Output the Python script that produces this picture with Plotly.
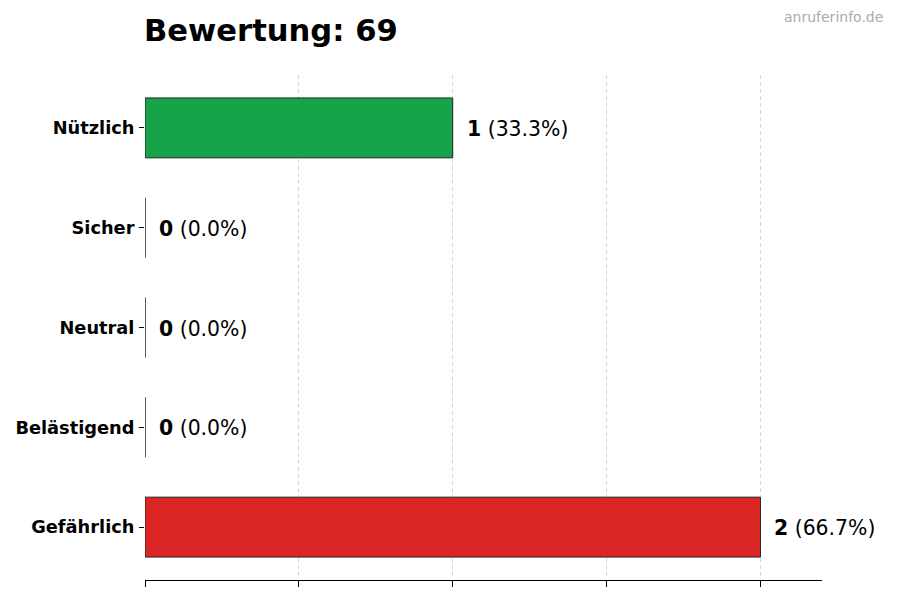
import plotly.graph_objects as go

categories = ["Nützlich", "Sicher", "Neutral", "Belästigend", "Gefährlich"]
values = [1, 0, 0, 0, 2]
colors = ["#16a34a", "#16a34a", "#9ca3af", "#dc2626", "#dc2626"]
title_text = "Bewertung: 69"
watermark = "anruferinfo.de"

total = sum(values)
FONT = "DejaVu Sans"

fig = go.Figure()
fig.add_trace(go.Bar(
    y=categories,
    x=values,
    orientation="h",
    width=0.6,
    marker=dict(color=colors, line=dict(color="#222222", width=1)),
    hoverinfo="skip",
))

for c, v in zip(categories, values):
    pct = 100.0 * v / total if total else 0
    fig.add_annotation(
        x=v, y=c, xref="x", yref="y",
        text=f"<b>{v}</b> ({pct:.1f}%)",
        showarrow=False, xanchor="left", yanchor="middle",
        xshift=12, yshift=-1, font=dict(family=FONT, size=20.4, color="#000000"),
    )

fig.add_annotation(
    x=0, y=1, xref="paper", yref="paper", yshift=45, xshift=-3, xanchor="left", yanchor="middle",
    text=f"<b>{title_text}</b>", showarrow=False,
    font=dict(family=FONT, size=30.6, color="#000000"),
)
fig.add_annotation(
    x=1, y=1, xref="paper", yref="paper", yshift=58, xshift=63, xanchor="right", yanchor="middle",
    text=watermark, showarrow=False,
    font=dict(family=FONT, size=14, color="#aaaaaa"),
)

fig.update_layout(
    width=900, height=600,
    margin=dict(l=145, r=78, t=75, b=20),
    plot_bgcolor="white", paper_bgcolor="white",
    showlegend=False,
    font=dict(family=FONT),
    bargap=0.4,
)
fig.update_xaxes(
    range=[0, 2.2], tickvals=[0, 0.5, 1, 1.5, 2], showticklabels=False,
    ticks="outside", ticklen=6, tickcolor="#000000",
    showline=True, linecolor="#000000", linewidth=1,
    showgrid=True, gridcolor="#d6d6d6", griddash="4px,3px", gridwidth=1,
    zeroline=False, layer="above traces",
)
fig.update_yaxes(
    categoryorder="array", categoryarray=categories[::-1],
    range=[-0.53, 4.53],
    ticks="outside", ticklen=5, tickcolor="#000000", ticklabelstandoff=1,
    tickfont=dict(family=FONT, size=17.8, color="#000000", weight="bold"),
    showline=False, showgrid=False, zeroline=False,
)

fig.write_html("out.html")
